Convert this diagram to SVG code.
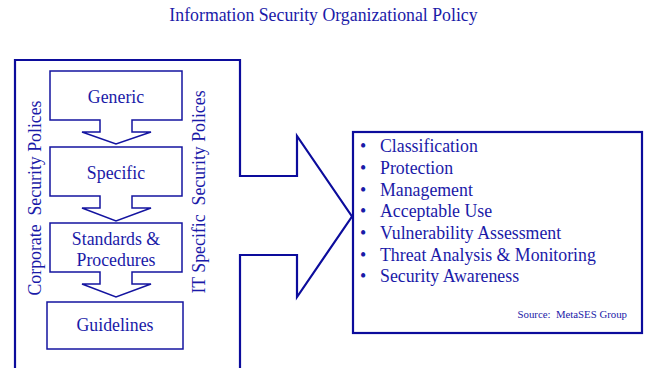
<svg xmlns="http://www.w3.org/2000/svg" width="647" height="368" viewBox="0 0 647 368">
<style>
.t{font-family:"Liberation Serif","Times New Roman",serif;fill:#1a1aa8;}
.b{fill:#fff;stroke:#1414a0;stroke-width:1.5;}
.f{fill:none;stroke:#0c0c9c;stroke-width:2.2;}
</style>
<rect width="647" height="368" fill="#fff"/>
<text class="t" x="323.5" y="21" font-size="17.8" text-anchor="middle">Information Security Organizational Policy</text>
<g id="connectors">
<path class="f" d="M15,368 V60 H240 V176 H297 V136 L352,216.5 L297,297 V255 H240 V368"/>
</g>
<g id="frame-labels">
<text class="t" font-size="17.8" text-anchor="middle" xml:space="preserve" transform="translate(41,198) rotate(-90)">Corporate  Security Polices</text>
<text class="t" font-size="17.8" text-anchor="middle" xml:space="preserve" transform="translate(205,192) rotate(-90)">IT Specific  Security Polices</text>
</g>
<g id="generic">
<polygon class="b" points="50,71 182,71 182,120 132,120 132,132 151,132 116,144 82,132 100,132 100,120 50,120"/>
<text class="t" x="116" y="103" font-size="17.8" text-anchor="middle">Generic</text>
</g>
<g id="specific">
<polygon class="b" points="50,147 182,147 182,196 132,196 132,208 151,208 116,221 82,208 100,208 100,196 50,196"/>
<text class="t" x="116" y="179" font-size="17.8" text-anchor="middle">Specific</text>
</g>
<g id="standards">
<polygon class="b" points="50,223 182,223 182,272 132,272 132,284 151,284 116,297 82,284 100,284 100,272 50,272"/>
<text class="t" x="116" y="245" font-size="17.8" text-anchor="middle">Standards &amp;</text>
<text class="t" x="116" y="266" font-size="17.8" text-anchor="middle">Procedures</text>
</g>
<g id="guidelines">
<rect class="b" x="47" y="302" width="136" height="47"/>
<text class="t" x="115" y="331" font-size="17.8" text-anchor="middle">Guidelines</text>
</g>
<g id="topics">
<rect x="353" y="132" width="289" height="201" fill="#fff" stroke="#0c0c9c" stroke-width="2.2"/>
<g class="t" font-size="17.8">
<text x="360" y="152">•</text><text x="380" y="152">Classification</text>
<text x="360" y="174">•</text><text x="380" y="174">Protection</text>
<text x="360" y="196">•</text><text x="380" y="196">Management</text>
<text x="360" y="217">•</text><text x="380" y="217">Acceptable Use</text>
<text x="360" y="239">•</text><text x="380" y="239">Vulnerability Assessment</text>
<text x="360" y="261">•</text><text x="380" y="261">Threat Analysis &amp; Monitoring</text>
<text x="360" y="282">•</text><text x="380" y="282">Security Awareness</text>
</g>
<text class="t" x="627" y="318" font-size="10.8" text-anchor="end" xml:space="preserve">Source:  MetaSES Group</text>
</g>
</svg>
